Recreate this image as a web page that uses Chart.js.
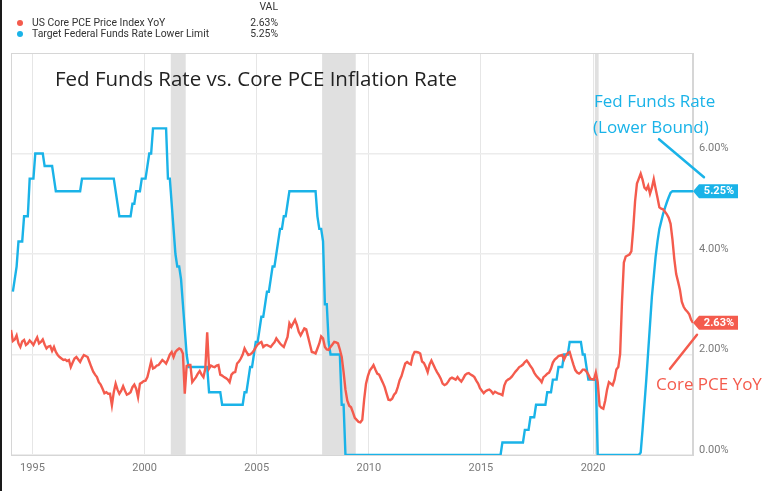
<!DOCTYPE html>
<html><head><meta charset="utf-8">
<script src="https://cdn.jsdelivr.net/npm/chart.js@4.4.1/dist/chart.umd.min.js"></script>
<style>
html,body{margin:0;padding:0;background:#fff;}
#wrap{position:relative;width:772px;height:491px;overflow:hidden;font-family:Roboto,"Noto Sans",sans-serif;}
#c{position:absolute;left:0;top:0;}
#edge{position:absolute;left:0;top:0;width:2px;height:491px;background:#1a1a1a;}
.t{position:absolute;white-space:nowrap;}
.leg{font-size:10.4px;color:#333;line-height:12px;}
.dot{position:absolute;width:6px;height:6px;border-radius:3px;}
.title{left:55px;top:65px;font-family:"Open Sans",sans-serif;font-size:20.5px;line-height:26px;color:#222;}
.ann{font-family:"Open Sans",sans-serif;font-size:17px;line-height:22px;}
</style></head>
<body><div id="wrap">
<canvas id="c" width="772" height="491"></canvas>
<div id="edge"></div>
<div class="t leg" style="right:494px;top:1px;">VAL</div>
<div class="dot" style="left:17px;top:20px;background:#f45b4d"></div>
<div class="t leg" id="l1" style="left:32px;top:17px;"></div>
<div class="t leg" id="v1" style="right:494px;top:17px;"></div>
<div class="dot" style="left:17px;top:31px;background:#1ab3e8"></div>
<div class="t leg" id="l2" style="left:32px;top:28px;"></div>
<div class="t leg" id="v2" style="right:494px;top:28px;"></div>
<div class="t title">Fed Funds Rate vs. Core PCE Inflation Rate</div>
<div class="t ann" style="left:594px;top:90px;color:#1ab3e8">Fed Funds Rate</div>
<div class="t ann" style="left:593px;top:116px;color:#1ab3e8">(Lower Bound)</div>
<div class="t ann" style="left:656px;top:373px;color:#f45b4d">Core PCE YoY</div>
</div>
<script>
// ---- data (monthly, starting Jan 1994) ----
const startYear = 1994;
const seriesNames = ['US Core PCE Price Index YoY', 'Target Federal Funds Rate Lower Limit'];
const seriesColors = ['#f45b4d', '#1ab3e8'];
const corePce = [
 2.49,2.27,2.30,2.38,2.22,2.15,2.26,2.29,2.19,2.22,2.28,2.24,
 2.19,2.27,2.34,2.22,2.25,2.30,2.20,2.12,2.16,2.17,2.07,2.15,
 2.05,1.99,1.95,1.92,1.89,1.90,1.87,1.89,1.75,1.84,1.92,1.95,
 1.90,1.85,1.93,1.99,1.97,1.95,1.85,1.75,1.66,1.60,1.55,1.45,
 1.40,1.32,1.23,1.25,1.22,1.22,0.99,1.25,1.42,1.30,1.22,1.28,
 1.37,1.28,1.20,1.22,1.25,1.35,1.40,1.32,1.15,1.42,1.44,1.47,
 1.48,1.55,1.70,1.86,1.72,1.74,1.78,1.79,1.84,1.89,1.86,1.82,
 1.90,2.00,2.05,1.95,2.05,2.09,2.12,2.10,2.02,1.22,1.77,1.79,
 1.79,1.45,1.50,1.55,1.62,1.67,1.60,1.55,1.72,2.44,1.72,1.78,
 1.76,1.75,1.78,1.79,1.60,1.58,1.55,1.53,1.50,1.45,1.60,1.64,
 1.65,1.82,1.86,1.92,2.00,2.12,2.05,1.99,2.00,2.03,2.08,2.14,
 2.20,2.23,2.25,2.15,2.18,2.19,2.17,2.15,2.20,2.24,2.32,2.27,
 2.22,2.18,2.15,2.25,2.35,2.62,2.55,2.62,2.69,2.59,2.45,2.38,
 2.45,2.52,2.50,2.35,2.20,2.05,2.04,2.02,2.12,2.22,2.36,2.32,
 2.15,2.10,2.09,2.15,2.20,2.25,2.24,2.22,2.10,1.95,1.65,1.30,
 1.08,0.98,0.95,0.85,0.74,0.70,0.66,0.65,0.70,1.10,1.42,1.57,
 1.68,1.73,1.79,1.70,1.62,1.60,1.52,1.44,1.35,1.22,1.10,1.09,
 1.12,1.20,1.24,1.35,1.49,1.57,1.70,1.82,1.85,1.82,1.80,1.97,
 2.05,2.05,2.04,2.02,1.86,1.83,1.75,1.65,1.80,1.88,1.80,1.72,
 1.65,1.59,1.52,1.42,1.39,1.41,1.46,1.52,1.54,1.52,1.50,1.55,
 1.50,1.46,1.52,1.59,1.62,1.63,1.60,1.58,1.55,1.48,1.42,1.33,
 1.28,1.23,1.27,1.29,1.30,1.27,1.22,1.26,1.24,1.22,1.21,1.19,
 1.38,1.47,1.50,1.52,1.56,1.61,1.66,1.70,1.75,1.77,1.80,1.85,
 1.88,1.83,1.77,1.72,1.64,1.58,1.54,1.50,1.45,1.55,1.58,1.62,
 1.64,1.72,1.84,1.90,1.93,1.97,1.98,1.99,1.90,1.98,2.03,2.05,
 1.92,1.80,1.69,1.64,1.62,1.65,1.70,1.70,1.66,1.60,1.52,1.51,
 1.50,1.64,1.45,0.98,0.94,0.92,1.08,1.30,1.45,1.42,1.39,1.50,
 1.70,1.75,2.01,3.05,3.83,3.95,3.97,3.99,4.05,4.50,5.05,5.40,
 5.50,5.60,5.48,5.32,5.28,5.36,5.20,5.32,5.49,5.30,5.12,4.93,
 4.90,4.89,4.84,4.79,4.72,4.60,4.29,3.90,3.60,3.45,3.29,3.05,
 2.95,2.89,2.85,2.80,2.69,2.63
];
const fedFunds = [
 null,3.25,3.5,3.75,4.25,4.25,4.25,4.75,4.75,4.75,5.5,5.5,
 5.5,6,6,6,6,6,5.75,5.75,5.75,5.75,5.75,5.5,
 5.25,5.25,5.25,5.25,5.25,5.25,5.25,5.25,5.25,5.25,5.25,5.25,
 5.25,5.25,5.5,5.5,5.5,5.5,5.5,5.5,5.5,5.5,5.5,5.5,
 5.5,5.5,5.5,5.5,5.5,5.5,5.5,5.5,5.25,5,4.75,4.75,
 4.75,4.75,4.75,4.75,4.75,5,5,5.25,5.25,5.25,5.5,5.5,
 5.5,5.75,6,6,6.5,6.5,6.5,6.5,6.5,6.5,6.5,6.5,
 5.5,5.5,5,4.5,4,3.75,3.75,3.5,3,2.5,2,1.75,
 1.75,1.75,1.75,1.75,1.75,1.75,1.75,1.75,1.75,1.75,1.25,1.25,
 1.25,1.25,1.25,1.25,1.25,1,1,1,1,1,1,1,
 1,1,1,1,1,1.25,1.25,1.5,1.75,1.75,2,2.25,
 2.25,2.5,2.75,2.75,3,3.25,3.25,3.5,3.75,3.75,4,4.25,
 4.5,4.5,4.75,4.75,5,5.25,5.25,5.25,5.25,5.25,5.25,5.25,
 5.25,5.25,5.25,5.25,5.25,5.25,5.25,5.25,4.75,4.5,4.5,4.25,
 3,3,2.25,2,2,2,2,2,2,1,1,0,
 0,0,0,0,0,0,0,0,0,0,0,0,
 0,0,0,0,0,0,0,0,0,0,0,0,
 0,0,0,0,0,0,0,0,0,0,0,0,
 0,0,0,0,0,0,0,0,0,0,0,0,
 0,0,0,0,0,0,0,0,0,0,0,0,
 0,0,0,0,0,0,0,0,0,0,0,0,
 0,0,0,0,0,0,0,0,0,0,0,0.25,
 0.25,0.25,0.25,0.25,0.25,0.25,0.25,0.25,0.25,0.25,0.25,0.5,
 0.5,0.5,0.75,0.75,0.75,1,1,1,1,1,1,1.25,
 1.25,1.25,1.5,1.5,1.5,1.75,1.75,1.75,2,2,2,2.25,
 2.25,2.25,2.25,2.25,2.25,2.25,2,2,1.75,1.5,1.5,1.5,
 1.5,1.5,0,0,0,0,0,0,0,0,0,0,
 0,0,0,0,0,0,0,0,0,0,0,0,
 0,0.05,0.5,1.0,1.5,2.05,2.6,3.15,3.55,3.95,4.25,4.5,
 4.65,4.8,4.92,5.03,5.13,5.22,5.25,5.25,5.25,5.25,5.25,5.25,
 5.25,5.25,5.25,5.25,5.25,5.25
];
const xTickYears = [1995, 2000, 2005, 2010, 2015, 2020];
const yTickValues = [0, 2, 4, 6];
const recessions = [['2001-03','2001-11'], ['2007-12','2009-06'], ['2020-02','2020-04']];

// ---- helpers ----
const monthIdx = s => { const [y,m] = s.split('-').map(Number); return (y - startYear)*12 + (m - 1); };
const yearPos = y => (y - startYear)*12 - 0.5;
const toPts = arr => arr.map((v,i) => ({x:i, y:v}));
const fmt = v => v.toFixed(2) + '%';
const lastOf = arr => arr[arr.length-1];

document.getElementById('l1').textContent = seriesNames[0];
document.getElementById('l2').textContent = seriesNames[1];
document.getElementById('v1').textContent = fmt(lastOf(corePce));
document.getElementById('v2').textContent = fmt(lastOf(fedFunds));

const frame = {
  id:'frame',
  beforeDatasetsDraw(chart){
    const {ctx, chartArea:a, scales:{x}} = chart;
    ctx.save();
    ctx.fillStyle = '#e0e0e0';
    recessions.forEach(([s,e]) => {
      const x1 = x.getPixelForValue(monthIdx(s) - 0.5), x2 = x.getPixelForValue(monthIdx(e) - 0.5);
      ctx.fillRect(x1, a.top, x2 - x1, a.bottom - a.top);
    });
    ctx.strokeStyle = '#d6d6d6'; ctx.lineWidth = 1;
    ctx.strokeRect(a.left + 0.5, a.top + 0.5, a.right - a.left - 1, a.bottom - a.top);
    ctx.restore();
  },
  afterDatasetsDraw(chart){
    const {ctx, scales:{x,y}} = chart;
    ctx.save();
    const tags = [];
    chart.data.datasets.forEach((ds, i) => {
      const p = ds.data[ds.data.length-1];
      const xe = x.getPixelForValue(p.x), ye = y.getPixelForValue(p.y);
      tags.push({xe, ye});
      ctx.fillStyle = ds.borderColor;
      ctx.beginPath();
      ctx.moveTo(xe, ye);
      ctx.lineTo(xe + 6, ye - 7);
      ctx.lineTo(xe + 45, ye - 7);
      ctx.lineTo(xe + 45, ye + 7);
      ctx.lineTo(xe + 6, ye + 7);
      ctx.closePath(); ctx.fill();
      ctx.fillStyle = '#fff';
      ctx.font = 'bold 11px Roboto';
      ctx.textAlign = 'center'; ctx.textBaseline = 'middle';
      ctx.fillText(fmt(p.y), xe + 26, ye + 0.5);
    });
    // pointer strokes from the hand-written notes
    ctx.lineWidth = 2.5; ctx.lineCap = 'round';
    const b = tags[1], r = tags[0];
    ctx.strokeStyle = seriesColors[1];
    ctx.beginPath(); ctx.moveTo(b.xe - 34, b.ye - 52); ctx.lineTo(b.xe + 11, b.ye - 14); ctx.stroke();
    ctx.strokeStyle = seriesColors[0];
    ctx.beginPath(); ctx.moveTo(r.xe - 23, r.ye + 46); ctx.lineTo(r.xe + 4, r.ye + 12); ctx.stroke();
    ctx.restore();
  }
};

new Chart(document.getElementById('c'), {
  type:'line',
  data:{ datasets:[
    {label:seriesNames[0], data:toPts(corePce), borderColor:seriesColors[0], backgroundColor:seriesColors[0], borderWidth:2.4, pointRadius:0, tension:0},
    {label:seriesNames[1], data:toPts(fedFunds), borderColor:seriesColors[1], backgroundColor:seriesColors[1], borderWidth:2.4, pointRadius:0, tension:0}
  ]},
  options:{
    responsive:false, animation:false, devicePixelRatio:1,
    layout:{padding:{left:11, top:53, right:0, bottom:0}},
    plugins:{legend:{display:false}, tooltip:{enabled:false}},
    scales:{
      x:{type:'linear', min:0, max:corePce.length-1,
        afterBuildTicks: s => { s.ticks = xTickYears.map(yr => ({value: yearPos(yr)})); },
        afterFit: s => { s.height = 36; },
        ticks:{autoSkip:false, maxRotation:0, padding:7, color:'#7a7a7a', font:{family:'Roboto', size:11},
          callback:(v,i) => String(xTickYears[i])},
        grid:{color:'#e6e6e6', lineWidth:1, drawTicks:false},
        border:{color:'#d6d6d6'}
      },
      y:{type:'linear', position:'right', min:0, max:8,
        afterBuildTicks: s => { s.ticks = yTickValues.map(v => ({value:v})); },
        afterFit: s => { s.width = 79; },
        ticks:{padding:6, labelOffset:-5, color:'#7a7a7a', font:{family:'Roboto', size:11}, callback: v => fmt(v)},
        grid:{color:'#ececec', lineWidth:1.5, drawTicks:false},
        border:{color:'#d6d6d6'}
      }
    }
  },
  plugins:[frame]
});
</script>
</body></html>
